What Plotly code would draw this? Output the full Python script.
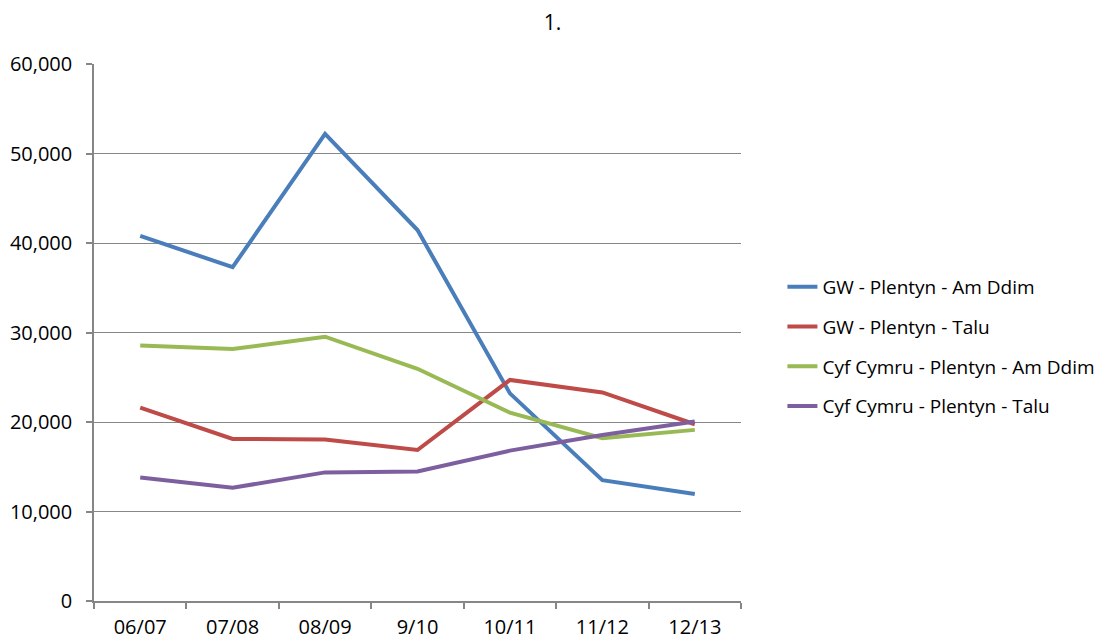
import plotly.graph_objects as go

categories = ["06/07", "07/08", "08/09", "9/10", "10/11", "11/12", "12/13"]
gw_am_ddim = [40800, 37300, 52200, 41450, 23200, 13500, 11950]
gw_talu = [21600, 18100, 18050, 16870, 24700, 23300, 19750]
cyf_am_ddim = [28550, 28150, 29530, 25950, 21040, 18180, 19120]
cyf_talu = [13800, 12650, 14370, 14480, 16800, 18550, 20050]

series = [
    ("GW - Plentyn - Am Ddim", gw_am_ddim, "#4A7EBB"),
    ("GW - Plentyn - Talu", gw_talu, "#BE4B48"),
    ("Cyf Cymru - Plentyn - Am Ddim", cyf_am_ddim, "#98B954"),
    ("Cyf Cymru - Plentyn - Talu", cyf_talu, "#7D5FA0"),
]

FONT = "Open Sans"
fig = go.Figure()
for i, (name, vals, color) in enumerate(series):
    fig.add_trace(go.Scatter(
        x=categories, y=vals, name=name, mode="lines",
        line=dict(color=color, width=4), legendgroup=f"g{i}",
    ))

# page body has an 8px default margin, so the figure is 8px smaller and margins shifted
fig.update_layout(
    width=1100, height=635,
    paper_bgcolor="white", plot_bgcolor="white",
    margin=dict(l=86, r=367, t=56, b=42, autoexpand=False),
    font=dict(family=FONT, size=19, color="black"),
    title=dict(text="1.", x=0.495, xanchor="center", y=0.977, yanchor="middle",
               font=dict(family=FONT, size=21, color="black")),
    showlegend=True,
    legend=dict(x=1.064, xanchor="left", y=0.474, yanchor="middle",
                font=dict(family=FONT, size=19, color="black"),
                traceorder="grouped", tracegroupgap=12, itemwidth=30,
                bgcolor="rgba(0,0,0,0)"),
)
fig.update_xaxes(
    type="category", range=[-0.5, 6.5], showline=True, linecolor="#868686", linewidth=1.5,
    ticks="outside", tickson="boundaries", ticklen=6, tickcolor="#868686", tickwidth=1.5,
    showgrid=False, tickfont=dict(family=FONT, size=20), ticklabelstandoff=7, automargin=False,
)
fig.update_yaxes(
    range=[0, 60000], dtick=10000, tickformat=",", showline=True, linecolor="#868686", linewidth=1.5,
    ticks="outside", ticklen=6, tickcolor="#868686", tickwidth=1.5,
    showgrid=True, gridcolor="#878787", gridwidth=1.2, zeroline=False,
    tickfont=dict(family=FONT, size=20), ticklabelstandoff=10, automargin=False,
)

fig.write_html("out.html")
